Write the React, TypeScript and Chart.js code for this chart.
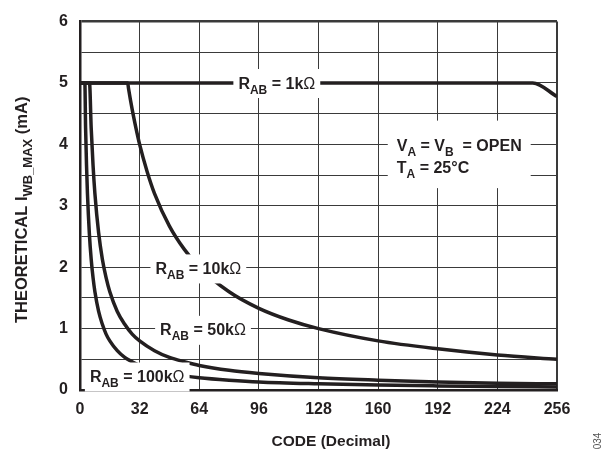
import React, { useEffect, useRef } from "react";
import { Chart, registerables } from "chart.js";

Chart.register(...registerables);

const xTicks = [0, 32, 64, 96, 128, 160, 192, 224, 256];
const yTicks = [0, 1, 2, 3, 4, 5, 6];

const code1k = [0, 243, 256];
const curr1k = [5, 5, 4.78];

const code10k = [0, 25.6, 26, 28, 30, 32, 36, 40, 48, 56, 64, 80, 96, 112, 128, 160, 192, 224, 256];
const curr10k = [5, 5, 4.92, 4.57, 4.27, 4.0, 3.56, 3.2, 2.67, 2.29, 2.0, 1.6, 1.33, 1.14, 1.0, 0.8, 0.67, 0.57, 0.5];

const code50k = [0, 5.1, 6, 7, 8, 10, 12, 14, 16, 20, 24, 28, 32, 40, 48, 56, 64, 80, 96, 128, 160, 192, 224, 256];
const curr50k = [5, 5, 4.27, 3.66, 3.2, 2.56, 2.13, 1.83, 1.6, 1.28, 1.07, 0.91, 0.8, 0.64, 0.53, 0.46, 0.4, 0.32, 0.27, 0.2, 0.16, 0.13, 0.11, 0.1];

const code100k = [0, 2.6, 3, 3.5, 4, 5, 6, 7, 8, 10, 12, 14, 16, 20, 24, 28, 32, 40, 48, 56, 64, 80, 96, 128, 160, 192, 224, 256];
const curr100k = [5, 5, 4.27, 3.66, 3.2, 2.56, 2.13, 1.83, 1.6, 1.28, 1.07, 0.91, 0.8, 0.64, 0.53, 0.46, 0.4, 0.32, 0.27, 0.23, 0.2, 0.16, 0.13, 0.1, 0.08, 0.067, 0.057, 0.05];

type Seg = { t: string; sub?: boolean; sym?: boolean };

const FONT = '"Liberation Sans", Arial, sans-serif';

function segFont(s: Seg, main: number, sub: number) {
  if (s.sym) return `normal ${main}px ${FONT}`;
  return `bold ${s.sub ? sub : main}px ${FONT}`;
}

function measure(ctx: CanvasRenderingContext2D, segs: Seg[], main = 16, sub = 12) {
  let w = 0;
  for (const s of segs) {
    ctx.font = segFont(s, main, sub);
    w += ctx.measureText(s.t).width;
  }
  return w;
}

function drawRich(ctx: CanvasRenderingContext2D, segs: Seg[], x: number, y: number, main = 16, sub = 12, off = 5) {
  let cx = x;
  ctx.textBaseline = "alphabetic";
  ctx.textAlign = "left";
  for (const s of segs) {
    ctx.font = segFont(s, main, sub);
    ctx.fillText(s.t, cx, y + (s.sub ? off : 0));
    cx += ctx.measureText(s.t).width;
  }
}

const rab = (v: string): Seg[] => [
  { t: "R" },
  { t: "AB", sub: true },
  { t: " = " + v + "k" },
  { t: "\u03A9", sym: true },
];

const labels: { lines: Seg[][]; x: number; y: number; lh?: number }[] = [
  { lines: [rab("1")], x: 85, y: 5 },
  { lines: [rab("10")], x: 40.5, y: 1.98 },
  { lines: [rab("50")], x: 43, y: 0.98 },
  { lines: [rab("100")], x: 5.3, y: 0.22 },
  {
    lines: [
      [{ t: "V" }, { t: "A", sub: true }, { t: " = V" }, { t: "B", sub: true }, { t: "  = OPEN" }],
      [{ t: "T" }, { t: "A", sub: true }, { t: " = 25°C" }],
    ],
    x: 170,
    y: 3.98,
    lh: 21.5,
  },
];

const textPlugin = {
  id: "texts",
  afterDatasetsDraw(chart: any) {
    const ctx: CanvasRenderingContext2D = chart.ctx;
    const xs = chart.scales.x;
    const ys = chart.scales.y;
    ctx.save();
    for (const l of labels) {
      const px = xs.getPixelForValue(l.x);
      const py = ys.getPixelForValue(l.y);
      const lh = l.lh || 0;
      const multi = l.lines.length > 1;
      let w = 0;
      for (const ln of l.lines) w = Math.max(w, measure(ctx, ln));
      const top = py - (multi ? 25 : 14);
      const bottom = py + 15 + lh * (l.lines.length - 1) + (multi ? 6 : 0);
      const padL = multi ? 9 : 5;
      const padR = multi ? 9 : 5;
      ctx.fillStyle = "#ffffff";
      ctx.fillRect(px - padL, top, w + padL + padR, bottom - top);
      ctx.fillStyle = "#231f20";
      l.lines.forEach((ln, i) => drawRich(ctx, ln, px, py + 5.5 + i * lh));
    }
    ctx.restore();
  },
  afterDraw(chart: any) {
    const ctx: CanvasRenderingContext2D = chart.ctx;
    const area = chart.chartArea;
    ctx.save();
    ctx.fillStyle = "#231f20";
    ctx.font = `bold 15.5px ${FONT}`;
    ctx.textAlign = "center";
    ctx.textBaseline = "alphabetic";
    ctx.fillText("CODE (Decimal)", 331, 446);
    const ySegs: Seg[] = [
      { t: "THEORETICAL I" },
      { t: "WB_MAX", sub: true },
      { t: " (mA)" },
    ];
    ctx.translate(27, (area.top + area.bottom) / 2 + 4);
    ctx.rotate(-Math.PI / 2);
    const w = measure(ctx, ySegs, 16.5, 13);
    drawRich(ctx, ySegs, -w / 2, 0, 16.5, 13, 5);
    ctx.restore();
    ctx.save();
    ctx.fillStyle = "#555";
    ctx.font = `normal 10px ${FONT}`;
    ctx.translate(601, 441);
    ctx.rotate(-Math.PI / 2);
    ctx.textAlign = "center";
    ctx.textBaseline = "alphabetic";
    ctx.fillText("034", 0, 0);
    ctx.restore();
  },
};

export default function App() {
  const ref = useRef<HTMLCanvasElement | null>(null);
  useEffect(() => {
    document.body.style.margin = "0";
    if (!ref.current) return;
    const mk = (xs: number[], ys: number[]) => xs.map((x, i) => ({ x, y: ys[i] }));
    const line = (label: string, xs: number[], ys: number[]) => ({
      label,
      data: mk(xs, ys),
      borderColor: "#231f20",
      borderWidth: 3.5,
      pointRadius: 0,
      fill: false,
      cubicInterpolationMode: "monotone" as const,
      borderCapStyle: "butt" as const,
    });
    const chart = new Chart(ref.current, {
      type: "line",
      data: {
        datasets: [
          line("1k", code1k, curr1k),
          line("10k", code10k, curr10k),
          line("50k", code50k, curr50k),
          line("100k", code100k, curr100k),
        ],
      },
      options: {
        animation: false,
        responsive: false,
        devicePixelRatio: 1,
        layout: { padding: { top: 12, right: 53, left: 0, bottom: 0 } },
        plugins: { legend: { display: false }, tooltip: { enabled: false } },
        scales: {
          x: {
            type: "linear",
            min: 0,
            max: 256,
            afterBuildTicks: (s: any) => {
              s.ticks = xTicks.map((v) => ({ value: v }));
            },
            afterFit: (s: any) => {
              s.height = 63;
            },
            ticks: {
              autoSkip: false,
              maxRotation: 0,
              padding: 10,
              color: "#231f20",
              font: { family: FONT, size: 16, weight: "bold" },
            },
            grid: {
              drawTicks: false,
              color: "#3a3a3a",
              lineWidth: (c: any) => (c.tick && c.tick.value === 256 ? 2 : 1),
            },
            border: { display: true, color: "#231f20", width: 2.5 },
          },
          y: {
            type: "linear",
            min: 0,
            max: 6,
            afterBuildTicks: (s: any) => {
              const t: { value: number }[] = [];
              for (let v = 0; v <= 6; v += 0.5) t.push({ value: v });
              s.ticks = t;
            },
            afterFit: (s: any) => {
              s.width = 80;
            },
            ticks: {
              autoSkip: false,
              padding: 12,
              color: "#231f20",
              font: { family: FONT, size: 16, weight: "bold" },
              callback: (v: any) => (yTicks.includes(Number(v)) ? String(v) : ""),
            },
            grid: {
              drawTicks: false,
              color: "#3a3a3a",
              lineWidth: (c: any) => (c.tick && c.tick.value === 6 ? 2.5 : 1),
            },
            border: { display: true, color: "#231f20", width: 2.5 },
          },
        },
      },
      plugins: [textPlugin],
    } as any);
    return () => chart.destroy();
  }, []);
  return (
    <div style={{ width: 610, height: 453 }}>
      <canvas ref={ref} width={610} height={453} style={{ width: 610, height: 453, display: "block" }} />
    </div>
  );
}
